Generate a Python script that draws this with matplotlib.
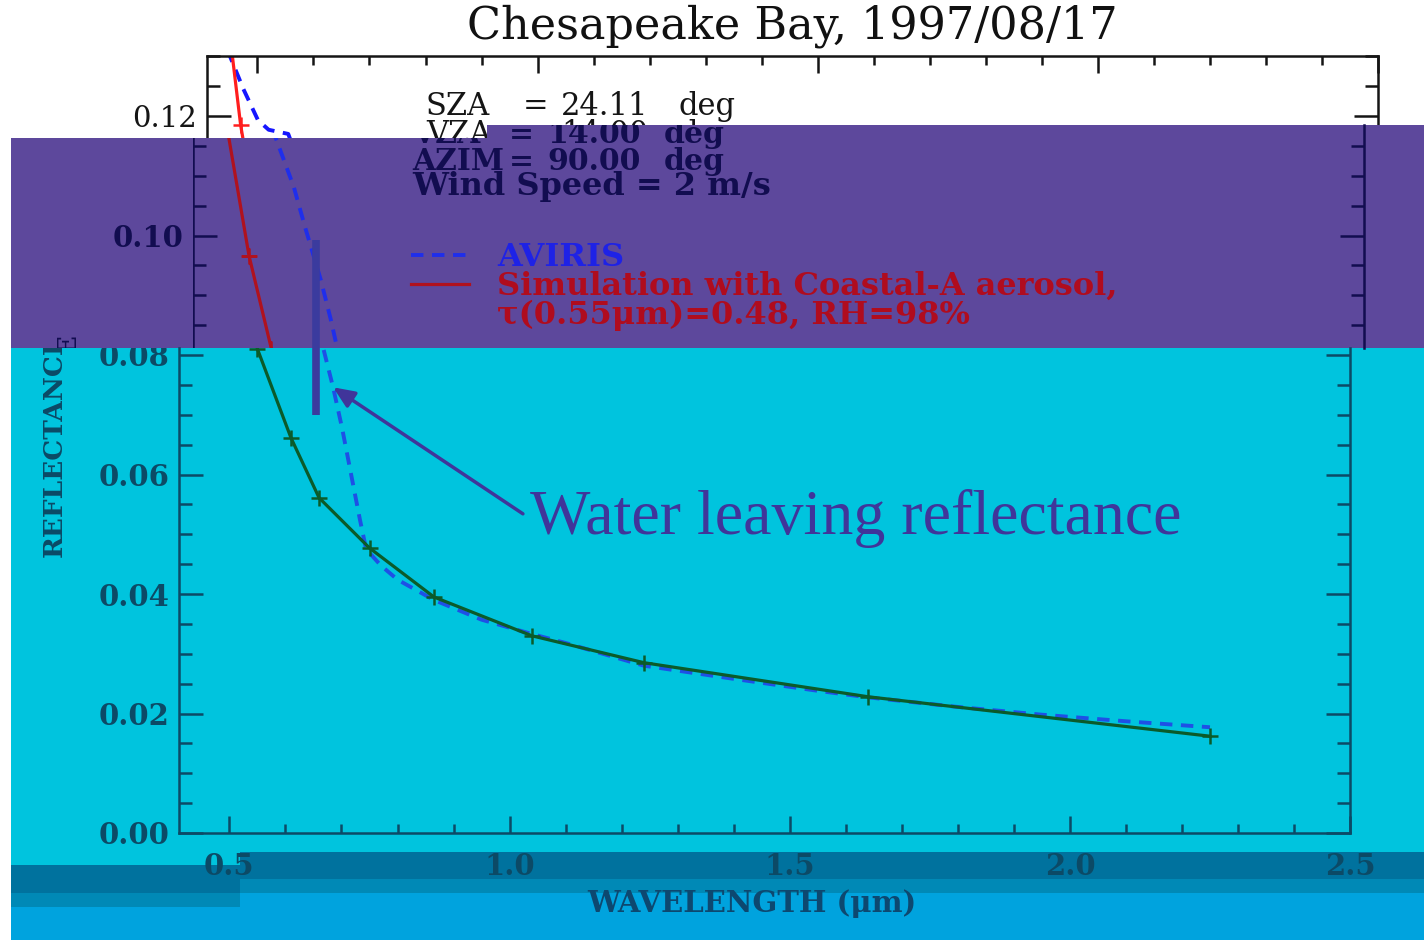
import matplotlib
matplotlib.use("Agg")
import matplotlib.pyplot as plt
from matplotlib.patches import Polygon
from matplotlib.lines import Line2D
from matplotlib.ticker import MultipleLocator, FormatStrFormatter
from matplotlib.transforms import Bbox, TransformedBbox

# AVIRIS water leaving reflectance
aviris_wl = [0.447, 0.451, 0.475, 0.501, 0.52, 0.555, 0.59, 0.61, 0.638, 0.656,
             0.667, 0.685, 0.701, 0.717, 0.733, 0.744, 0.77, 0.80, 0.865, 0.95,
             1.04, 1.10, 1.24, 1.40, 1.55, 1.64, 1.80, 1.95, 2.10, 2.25]
aviris_refl = [0.131, 0.130, 0.1245, 0.1193, 0.1177, 0.1170, 0.1081, 0.1014, 0.0926, 0.0859,
               0.0813, 0.0746, 0.0678, 0.0601, 0.0524, 0.0475, 0.0448, 0.0424, 0.0390, 0.0357,
               0.0333, 0.0318, 0.0280, 0.0258, 0.0238, 0.0227, 0.0211, 0.0198, 0.0187, 0.0177]
# simulation, Coastal-A aerosol
sim_wl = [0.44, 0.47, 0.51, 0.55, 0.61, 0.66, 0.75, 0.865, 1.04, 1.24, 1.64, 2.25]
sim_refl = [0.142, 0.1185, 0.0966, 0.081, 0.0661, 0.0561, 0.0477, 0.0395, 0.0330, 0.0285, 0.0228, 0.0162]

title = "Chesapeake Bay, 1997/08/17"
geom_names = ["SZA", "VZA", "AZIM"]
geom_values = ["24.11", "14.00", "90.00"]
wind_text = "Wind Speed = 2 m/s"
legend_labels = ["AVIRIS", "Simulation with Coastal-A aerosol,", "τ(0.55μm)=0.48, RH=98%"]
note_text = "Water leaving reflectance"
note_point = (0.685, 0.0746)
note_pos = (1.037, 0.0500)
mark_wl = 0.655
mark_range = (0.070, 0.0992)

W, H = 1424, 940
plt.rcParams["font.family"] = "DejaVu Serif"
plt.rcParams["font.weight"] = "bold"
plt.rcParams["axes.labelweight"] = "bold"
fig = plt.figure(figsize=(W / 100, H / 100), dpi=100)

XMIN, XMAX = 0.41, 2.5
PXX, PXY, Y0 = 560.3, 5975.0, 833.0   # pixels per micron, per unit reflectance, row of 0


def v_at(py):
    return (Y0 - py) / PXY


def x_at(px):  # px measured in the lower (cyan) panel
    return XMIN + (px - 179) / PXX


def band(points, color):
    p = Polygon([(x / W, 1 - y / H) for x, y in points], closed=True, transform=fig.transFigure,
                facecolor=color, edgecolor="none", zorder=1)
    fig.add_artist(p)
    return p


def rect(x0, y0, x1, y1, color):
    return band([(x0, y0), (x1, y0), (x1, y1), (x0, y1)], color)


def fig_box(x0, y0, x1, y1):
    return TransformedBbox(Bbox.from_extents(x0 / W, 1 - y1 / H, x1 / W, 1 - y0 / H), fig.transFigure)


# coloured slide bands
purple = band([(11, 138), (487, 138), (487, 125), (W, 125), (W, 348), (11, 348)], "#5D489C")
band([(11, 348), (W, 348), (W, 852), (240, 852), (240, 865), (11, 865)], "#00C4DE")
band([(11, 865), (240, 865), (240, 852), (W, 852), (W, 879), (240, 879), (240, 893), (11, 893)], "#00729E")
rect(11, 893, 240, 907, "#0089B6")
rect(240, 879, W, 893, "#0089B6")
band([(11, 907), (240, 907), (240, 893), (W, 893), (W, 940), (11, 940)], "#00A3DE")


def panel(left, top, bottom, fg, z, weight="bold"):
    ax = fig.add_axes([left / W, 1 - bottom / H, (XMAX - XMIN) * PXX / W, (bottom - top) / H])
    ax.set_facecolor("none")
    ax.set_zorder(z)
    ax.set_xlim(XMIN, XMAX)
    ax.set_ylim(v_at(bottom), v_at(top))
    ax.xaxis.set_major_locator(MultipleLocator(0.5))
    ax.xaxis.set_minor_locator(MultipleLocator(0.1))
    ax.yaxis.set_major_locator(MultipleLocator(0.02))
    ax.yaxis.set_minor_locator(MultipleLocator(0.005))
    ax.xaxis.set_major_formatter(FormatStrFormatter("%.1f"))
    ax.yaxis.set_major_formatter(FormatStrFormatter("%.2f"))
    ax.tick_params(which="both", direction="in", colors=fg, width=1.8, left=True, right=True,
                   top=False, bottom=False, labelbottom=False, labelsize=21)
    ax.tick_params(axis="y", which="major", length=17, pad=7)
    ax.tick_params(axis="y", which="minor", length=9.5)
    ax.tick_params(axis="x", which="major", length=12, pad=14)
    ax.tick_params(axis="x", which="minor", length=6.5)
    for sp in ax.spines.values():
        sp.set_color(fg)
        sp.set_linewidth(1.8)
    for lab in ax.get_yticklabels() + ax.get_xticklabels():
        lab.set_fontweight(weight)
    return ax


def curves(ax, sim_color, aviris_color, clip=None):
    a, = ax.plot(aviris_wl, aviris_refl, color=aviris_color, lw=2.8, dashes=(3.2, 2.2),
                 label=legend_labels[0])
    s, = ax.plot(sim_wl, sim_refl, color=sim_color, lw=2.3, label=legend_labels[1])
    m, = ax.plot(sim_wl, sim_refl, ls="none", marker="+", ms=11, mew=1.8, color=sim_color)
    if clip is not None:
        for ln in (a, s, m):
            ln.set_clip_path(clip)
    return a, s


name_x, eq_x, val_x, unit_x = x_at(398), x_at(495), x_at(533), x_at(650)
row_base = [v_at(115), v_at(143), v_at(170)]


def geom_row(ax, i, fg, size, weight, name_clip=None):
    kw = dict(color=fg, fontsize=size, fontweight=weight, va="baseline", clip_on=True)
    t = ax.text(name_x, row_base[i], geom_names[i], **kw)
    if name_clip is not None:
        t.set_clip_box(name_clip)
    ax.text(eq_x, row_base[i], "=", **kw)
    ax.text(val_x, row_base[i], geom_values[i], **kw)
    ax.text(unit_x, row_base[i], "deg", **kw)


# ---- top (white) piece ----
ax_w = panel(207, Y0 - 0.13 * PXY, 138, "#151515", 0, weight="normal")
ax_w.spines["bottom"].set_visible(False)
ax_w.tick_params(axis="x", which="both", top=True)
curves(ax_w, "#FF1E1E", "#1616FF")
geom_row(ax_w, 0, "#151515", 22, "normal")
geom_row(ax_w, 1, "#151515", 22, "normal")

# ---- middle (purple) piece ----
navy = "#120D50"
ax_p = panel(193, 125, 348, navy, 2)
ax_p.spines["top"].set_visible(False)
ax_p.spines["bottom"].set_visible(False)
ax_p.spines["left"].set_clip_path(purple)
h_av, h_sim = curves(ax_p, "#B0121E", "#1F2EEB", clip=purple)
geom_row(ax_p, 1, navy, 21.5, "bold", name_clip=fig_box(0, 138, W, 348))
geom_row(ax_p, 2, navy, 21.5, "bold")
ax_p.text(name_x, v_at(195), wind_text, color=navy, fontsize=23, va="baseline")
blank = Line2D([], [], ls="none")
ax_p.legend([h_av, h_sim, blank], legend_labels, loc="upper left",
            bbox_to_anchor=(x_at(397), v_at(242)), bbox_transform=ax_p.transData,
            frameon=False, borderpad=0, borderaxespad=0, handlelength=1.8,
            handletextpad=0.9, labelspacing=-0.07, fontsize=23,
            labelcolor=["#1E22E6", "#B00C1E", "#B00C1E"])
t = ax_p.text(x_at(54), 0.065, "REFLECTANCE", rotation=90, ha="center", va="center",
              color=navy, fontsize=19, clip_on=True)
t.set_clip_box(fig_box(0, 138, W, 348))

# ---- bottom (cyan) piece ----
teal = "#0C4A66"
ax_c = panel(179, 348, Y0, teal, 2)
ax_c.spines["top"].set_visible(False)
ax_c.tick_params(axis="x", which="both", bottom=True, labelbottom=True)
for lab in ax_c.get_xticklabels():
    lab.set_fontweight("bold")
cyan_box = fig_box(0, 348, W, H)
for lab in ax_c.get_yticklabels():
    lab.set_clip_on(True)
    lab.set_clip_box(cyan_box)
curves(ax_c, "#0B5B2A", "#1E50E6")
ax_c.set_xlabel("WAVELENGTH (μm)", fontsize=21, color="#0D4870", fontweight="bold")
ax_c.xaxis.set_label_coords((752 - 179) / 1171, -0.115)
t = ax_c.text(x_at(54), 0.065, "REFLECTANCE", rotation=90, ha="center", va="center",
              color=teal, fontsize=19, clip_on=True)
t.set_clip_box(cyan_box)

# slide overlay: marker bar and arrow note
ax_c.vlines(mark_wl, *mark_range, colors="#3B3B9E", linewidth=5.5, clip_on=False, zorder=9)
ax_c.annotate(note_text, xy=note_point, xytext=note_pos, textcoords="data",
              fontsize=46, family="Liberation Serif", fontweight="normal", color="#40359A",
              ha="left", va="baseline", annotation_clip=False, zorder=10,
              arrowprops=dict(arrowstyle="-|>,head_length=0.28,head_width=0.12", color="#40359A",
                              lw=2.5, relpos=(0, 0.5), shrinkA=4, shrinkB=0))

fig.text(792 / W, 1 - 26 / H, title, ha="center", va="center", fontsize=32,
         fontweight="normal", color="#111111")

fig.savefig("out.png", dpi=100)
